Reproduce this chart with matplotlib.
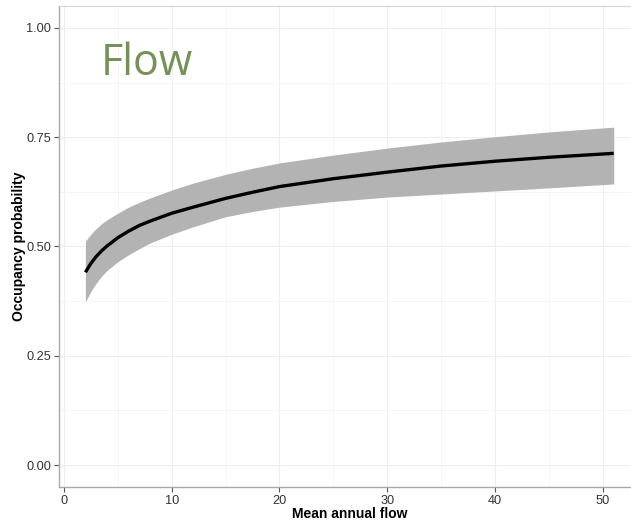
import matplotlib.pyplot as plt
from matplotlib.ticker import MultipleLocator

plt.rcParams['font.family'] = ['Liberation Sans', 'DejaVu Sans']

# values
flow = [2, 2.5, 3, 3.5, 4, 5, 6, 7, 8, 10, 12, 15, 17.5, 20, 25, 30, 35, 40, 45, 51]
occ = [0.441, 0.461, 0.477, 0.490, 0.501, 0.520, 0.535, 0.548, 0.558, 0.576,
       0.590, 0.610, 0.624, 0.637, 0.655, 0.670, 0.684, 0.695, 0.704, 0.713]
occ_hi = [0.512, 0.528, 0.541, 0.552, 0.561, 0.576, 0.590, 0.601, 0.611, 0.629,
          0.645, 0.665, 0.679, 0.691, 0.709, 0.725, 0.739, 0.751, 0.762, 0.773]
occ_lo = [0.373, 0.397, 0.416, 0.432, 0.445, 0.465, 0.481, 0.495, 0.508, 0.528,
          0.545, 0.568, 0.580, 0.590, 0.603, 0.613, 0.620, 0.627, 0.634, 0.643]

fig = plt.figure(figsize=(6.31, 5.20), dpi=100)
ax = fig.add_axes([0.0935, 0.0635, 0.921, 0.925])

ax.fill_between(flow, occ_lo, occ_hi, color='#b3b3b3', lw=0, zorder=2)
ax.plot(flow, occ, color='black', lw=2.4, zorder=3, solid_capstyle='butt')

ax.set_xlim(-0.45, 53.45)
ax.set_ylim(-0.05, 1.05)
ax.xaxis.set_major_locator(MultipleLocator(10))
ax.xaxis.set_minor_locator(MultipleLocator(5))
ax.yaxis.set_minor_locator(MultipleLocator(0.125))
ax.set_yticks([0, 0.25, 0.5, 0.75, 1.0])
ax.set_yticklabels(['0.00', '0.25', '0.50', '0.75', '1.00'])

ax.grid(which='major', color='#efefef', lw=0.8, zorder=0)
ax.grid(which='minor', color='#f4f4f4', lw=0.6, zorder=0)
ax.set_axisbelow(True)

for side in ['top', 'right']:
    ax.spines[side].set_color('#d6d6d6')
for side in ['left', 'bottom']:
    ax.spines[side].set_color('#a9a9a9')
    ax.spines[side].set_linewidth(1.0)

ax.tick_params(which='major', length=3.5, width=0.8, color='#555555',
               labelsize=9.2, labelcolor='#333333', pad=2)
ax.tick_params(which='minor', length=0)

ax.set_xlabel('Mean annual flow', fontsize=10, fontweight='bold', labelpad=0)
ax.set_ylabel('Occupancy probability', fontsize=10, fontweight='bold', labelpad=0.5)

ax.text(0.071, 0.857, 'Flow', transform=ax.transAxes, fontsize=31,
        color='#76905a', family=['Open Sans', 'DejaVu Sans'], va='baseline', ha='left')

fig.savefig('out.png', dpi=100)
